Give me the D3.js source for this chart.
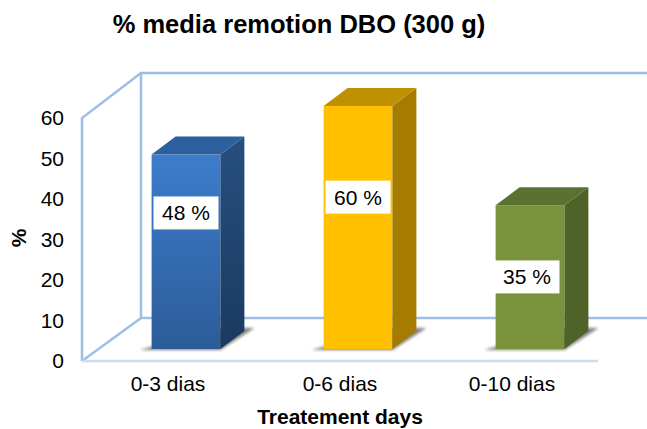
<!DOCTYPE html>
<html>
<head>
<meta charset="utf-8">
<script src="https://cdn.jsdelivr.net/npm/d3@7"></script>
<style>
  html, body { margin: 0; padding: 0; background: #fff; }
  svg { display: block; }
  text { font-family: "Liberation Sans", Arial, sans-serif; fill: #000; }
</style>
</head>
<body>
<div id="chart"></div>
<script>
'use strict';

var categories = ['0-3 dias', '0-6 dias', '0-10 dias'];
var values = [48, 60, 35.5];
var valueLabels = ['48 %', '60 %', '35 %'];
var labelAt = [33.6, 37.5, 17.8];
var yTicks = [0, 10, 20, 30, 40, 50, 60];
var frontColors = [['#3d7dcc', '#2c5c99'], ['#ffc000', '#ffc000'], ['#7a933b', '#7a933b']];
var sideColors = [['#264f80', '#1b3a60'], ['#a67c00', '#a67c00'], ['#4f6228', '#4f6228']];
var topColors = ['#2c5f9e', '#bf9000', '#5b7131'];

var width = 647;
var height = 429;

var svg = d3.select('#chart').append('svg')
	.attr('width', width)
	.attr('height', height);

var defs = svg.append('defs');

defs.append('filter')
	.attr('id', 'blur')
	.attr('x', '-20%').attr('y', '-50%')
	.attr('width', '140%').attr('height', '200%')
	.append('feGaussianBlur')
	.attr('stdDeviation', 1.6);

function addGradient(id, stops){
	var g = defs.append('linearGradient')
		.attr('id', id)
		.attr('x1', 0).attr('y1', 0)
		.attr('x2', 0).attr('y2', 1);
	g.append('stop').attr('offset', '0%').attr('stop-color', stops[0]);
	g.append('stop').attr('offset', '100%').attr('stop-color', stops[1]);
}

categories.forEach(function(c, i){
	addGradient('front' + i, frontColors[i]);
	addGradient('side' + i, sideColors[i]);
});

// front plane of the box, the axis sits on this one
var xScale = d3.scaleBand()
	.domain(categories)
	.range([82, 598])
	.paddingInner(0.6)
	.paddingOuter(0.3);

var yFront = d3.scaleLinear().domain([0, 60]).range([361, 118]);
var yBack = d3.scaleLinear().domain([0, 60]).range([318, 73]);
var yBar = d3.scaleLinear().domain([0, 60]).range([349, 106]);

var wallDx = 59;
var barDx = 18;
var sideDx = 24;
var sideDy = 18;
var wallLeft = xScale.range()[0];
var wallBack = wallLeft + wallDx;

var walls = svg.append('g')
	.attr('fill', 'none')
	.attr('stroke', '#9dbfe6')
	.attr('stroke-width', 2.5);

var wallLines = [
	[[wallLeft, yFront(0)], [wallLeft, yFront(60)], [wallBack, yBack(60)], [width, yBack(60)]],
	[[wallBack, yBack(60)], [wallBack, yBack(0)], [width, yBack(0)]],
	[[wallLeft, yFront(0)], [wallBack, yBack(0)]]
];

walls.selectAll('path')
	.data(wallLines)
	.enter()
	.append('path')
	.attr('d', d3.line());

svg.append('line')
	.attr('x1', wallLeft)
	.attr('x2', xScale.range()[1])
	.attr('y1', yFront(0))
	.attr('y2', yFront(0))
	.attr('stroke', '#c9dcf2')
	.attr('stroke-width', 2.5);

var bar = svg.selectAll('g.bar')
	.data(categories)
	.enter()
	.append('g')
	.attr('class', 'bar')
	.attr('transform', function(d){ return 'translate(' + (xScale(d) + barDx) + ',0)'; });

var bw = xScale.bandwidth();

// soft shadow on the floor
bar.append('path')
	.attr('fill', '#808080')
	.attr('filter', 'url(#blur)')
	.attr('d', d3.line()([
		[-12, yBar(0) + 1],
		[bw, yBar(0) + 1],
		[bw + 34, yBar(0) - 21],
		[bw, yBar(0) - 21]
	]));

bar.append('rect')
	.attr('x', 0)
	.attr('y', function(d, i){ return yBar(values[i]); })
	.attr('width', bw)
	.attr('height', function(d, i){ return yBar(0) - yBar(values[i]); })
	.attr('fill', function(d, i){ return 'url(#front' + i + ')'; });

bar.append('path')
	.attr('fill', function(d, i){ return 'url(#side' + i + ')'; })
	.attr('d', function(d, i){
		var t = yBar(values[i]);
		var b = yBar(0);
		return d3.line()([[bw, t], [bw + sideDx, t - sideDy], [bw + sideDx, b - sideDy], [bw, b]]);
	});

bar.append('path')
	.attr('fill', function(d, i){ return topColors[i]; })
	.attr('d', function(d, i){
		var t = yBar(values[i]);
		return d3.line()([[0, t], [sideDx, t - sideDy], [bw + sideDx, t - sideDy], [bw, t]]);
	});

// white value boxes
var boxW = 65;
var boxH = 33;
var label = svg.selectAll('g.value')
	.data(categories)
	.enter()
	.append('g')
	.attr('class', 'value')
	.attr('transform', function(d, i){
		var shift = i === 2 ? -3 : 0;
		return 'translate(' + (xScale(d) + barDx + bw / 2 + shift) + ',' + yBar(labelAt[i]) + ')';
	});

label.append('rect')
	.attr('x', -boxW / 2)
	.attr('y', -boxH / 2)
	.attr('width', boxW)
	.attr('height', boxH)
	.attr('fill', '#fff');

label.append('text')
	.attr('text-anchor', 'middle')
	.attr('dy', '0.36em')
	.attr('font-size', 21)
	.text(function(d, i){ return valueLabels[i]; });

// axes
var yAxis = d3.axisLeft(yFront)
	.tickValues(yTicks)
	.tickSize(0)
	.tickPadding(18);

var yG = svg.append('g')
	.attr('transform', 'translate(' + wallLeft + ',0)')
	.call(yAxis);
yG.select('.domain').remove();
yG.selectAll('text')
	.attr('font-size', 21)
	.attr('font-family', '"Liberation Sans", Arial, sans-serif');

var xAxis = d3.axisBottom(xScale)
	.tickSize(0)
	.tickPadding(15);

var xG = svg.append('g')
	.attr('transform', 'translate(0,' + yFront(0) + ')')
	.call(xAxis);
xG.select('.domain').remove();
xG.selectAll('text')
	.attr('font-size', 21)
	.attr('font-family', '"Liberation Sans", Arial, sans-serif');

svg.append('text')
	.attr('x', 299)
	.attr('y', 33)
	.attr('text-anchor', 'middle')
	.attr('font-size', 25.5)
	.attr('font-weight', 'bold')
	.text('% media remotion DBO (300 g)');

svg.append('text')
	.attr('x', 340)
	.attr('y', 424)
	.attr('text-anchor', 'middle')
	.attr('font-size', 21)
	.attr('font-weight', 'bold')
	.text('Treatement days');

svg.append('text')
	.attr('transform', 'translate(26,238) rotate(-90)')
	.attr('text-anchor', 'middle')
	.attr('font-size', 21)
	.attr('font-weight', 'bold')
	.text('%');
</script>
</body>
</html>
